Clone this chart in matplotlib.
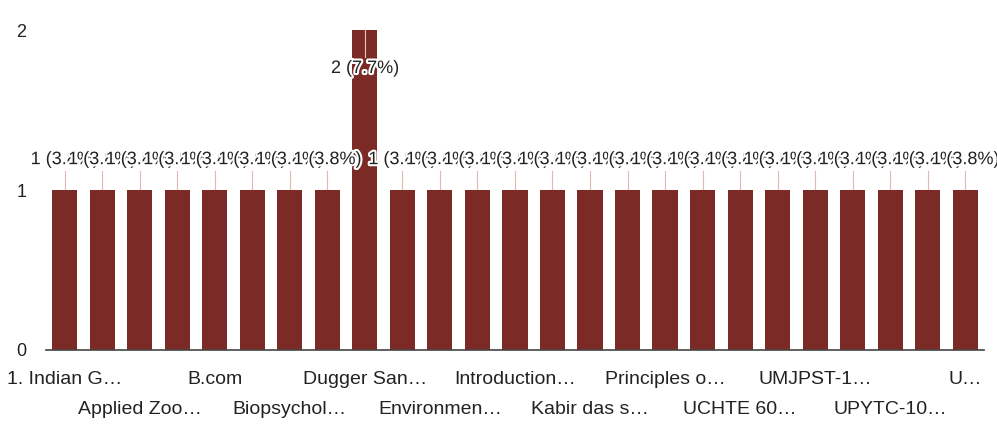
import matplotlib

matplotlib.use("Agg")
import matplotlib.patheffects as pe
import matplotlib.pyplot as plt

# responses per course (one bar each); only every second name is printed on the axis
counts = [1, 1, 1, 1, 1, 1, 1, 1, 2, 1, 1, 1, 1,
          1, 1, 1, 1, 1, 1, 1, 1, 1, 1, 1, 1]
shown_labels = [
    "1. Indian G…", "Applied Zoo…", "B.com", "Biopsychol…", "Dugger San…",
    "Environmen…", "Introduction…", "Kabir das s…", "Principles o…",
    "UCHTE 60…", "UMJPST-1…", "UPYTC-10…", "U…",
]
y_ticks = [0, 1, 2]

BAR = "#7b2a25"
TXT = "#222222"
plt.rcParams["font.family"] = ["Liberation Sans", "DejaVu Sans"]

total = sum(counts)
x = list(range(len(counts)))

fig = plt.figure(figsize=(9.97, 4.43), dpi=100)
ax = fig.add_axes([0.046, 0.21, 0.941, 0.722])
ax.bar(x, counts, width=0.67, color=BAR, zorder=2)
ax.set_xlim(-0.5, len(counts) - 0.5)
ax.set_ylim(0, 2)

for s in ["top", "right", "left"]:
    ax.spines[s].set_visible(False)
ax.spines["bottom"].set_color("#444444")
ax.spines["bottom"].set_linewidth(1.2)
ax.set_xticks([])
ax.set_yticks(y_ticks)
ax.tick_params(axis="y", length=0, labelsize=13, labelcolor=TXT, pad=14)

# value annotations, later ones drawn on top of earlier ones
for i, c in enumerate(counts):
    label = f"{c} ({100 * c / total:.1f}%)"
    if c == max(counts):
        ax.plot([i, i], [c, c - 0.17], color="#e8c8c4", lw=0.8, zorder=3)
        t = ax.text(i, c - 0.24, label, ha="center", va="center", fontsize=13,
                    color=TXT, zorder=10 + i)
    else:
        ax.plot([i, i], [c, c + 0.12], color="#e0b8b4", lw=0.8, zorder=1)
        t = ax.text(i, c + 0.19, label, ha="center", va="center", fontsize=13,
                    color=TXT, zorder=10 + i)
    t.set_path_effects([pe.withStroke(linewidth=3, foreground="white")])

# category names alternate between two rows
for k, name in enumerate(shown_labels):
    pos = 2 * k
    off = -21 if k % 2 == 0 else -43
    ax.annotate(name, xy=(pos, 0), xycoords=("data", "axes fraction"),
                xytext=(0, off), textcoords="offset points",
                ha="center", va="center", fontsize=14, color=TXT,
                annotation_clip=False)

fig.savefig("out.png", dpi=100)
